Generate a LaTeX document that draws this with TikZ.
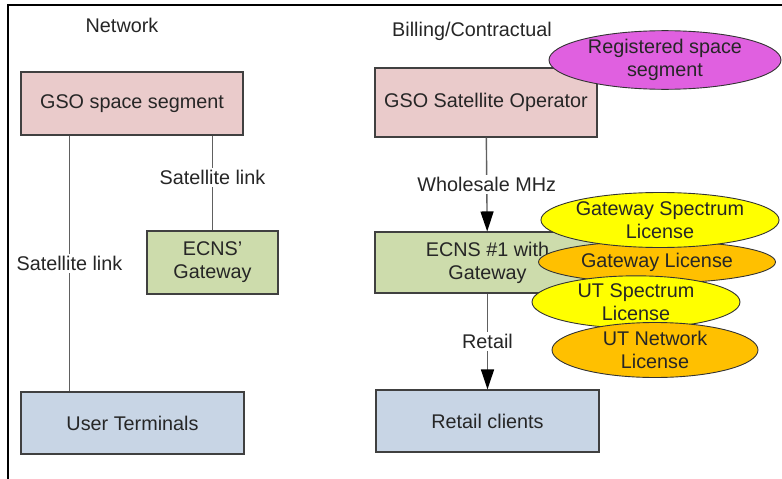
\documentclass[tikz,border=0pt]{standalone}
\usepackage{fontspec}
\setmainfont{Liberation Sans}
\usetikzlibrary{shapes.geometric,arrows.meta}
\definecolor{boxpink}{HTML}{EACBCB}
\definecolor{boxgreen}{HTML}{CDDCAC}
\definecolor{boxblue}{HTML}{C8D5E5}
\definecolor{lyellow}{HTML}{FFFF00}
\definecolor{lorange}{HTML}{FFC000}
\definecolor{lmagenta}{HTML}{E060E0}
\definecolor{edgegray}{HTML}{404040}
\definecolor{linkgray}{HTML}{606060}
\begin{document}
\begin{tikzpicture}[x=1pt,y=-1pt,
    every node/.style={font=\fontsize{19.8}{23}\selectfont, text=black!85},
    block/.style={draw=edgegray, line width=1.1pt, align=center, inner sep=0pt},
    lic/.style={ellipse, draw=black!80, line width=0.9pt, align=center, inner sep=0pt},
    link/.style={draw=linkgray, line width=1.4pt},
    linklabel/.style={fill=white, inner sep=2pt}]
    \useasboundingbox (0,0) rectangle (782,479);
    % frame
    \draw[line width=2pt] (8,479) -- (8,5) -- (782,5);

    % Network side
    \node (nettitle) at (122,25) {Network};
    \node[block, fill=boxpink, minimum width=222pt, minimum height=63pt] (gsoseg) at (132,103.5) {GSO space segment};
    \node[block, fill=boxgreen, minimum width=131pt, minimum height=63pt] (ecnsgw) at (212.5,262.5) {ECNS'\\Gateway};
    \node[block, fill=boxblue, minimum width=223pt, minimum height=62pt] (userterm) at (132.5,423) {User Terminals};
    \draw[link] ([xshift=49pt]gsoseg.south west) -- node[linklabel] {Satellite link} ([xshift=49pt]userterm.north west);
    \draw[link] (gsoseg.south -| ecnsgw.north) -- node[linklabel, pos=0.44] {Satellite link} (ecnsgw.north);

    % Billing side
    \node (billtitle) at (472,31) {Billing/Contractual};
    \node[block, fill=boxpink, minimum width=222pt, minimum height=69pt] (gsoop) at (486,102.5) {GSO Satellite Operator};
    \node[block, fill=boxgreen, minimum width=225pt, minimum height=61pt] (ecnsone) at (487.5,262.5) {ECNS \#1 with\\Gateway};
    \node[block, fill=boxblue, minimum width=223pt, minimum height=62pt] (retail) at (487.5,421) {Retail clients};
    \draw[link, -{Triangle[length=20pt,width=13pt]}, arrows={[black]}] (gsoop) -- node[linklabel] {Wholesale MHz} (ecnsone);
    \draw[link, -{Triangle[length=20pt,width=13pt]}, arrows={[black]}] (ecnsone) -- node[linklabel] {Retail} (retail);

    % licences
    \node[lic, fill=lmagenta, minimum width=232pt, minimum height=55pt] (regseg) at (665,60) {Registered space\\segment};
    \node[lic, fill=lorange, minimum width=237pt, minimum height=42pt] (gwlic) at (657,262) {Gateway License};
    \node[lic, fill=lyellow, minimum width=230pt, minimum height=55pt] (gwspec) at (660,220) {Gateway Spectrum\\License};
    \node[lic, fill=lyellow, minimum width=208pt, minimum height=50pt] (utspec) at (636,302) {UT Spectrum\\License};
    \node[lic, fill=lorange, minimum width=206pt, minimum height=55pt] (utnet) at (655,350) {UT Network\\License};
\end{tikzpicture}
\end{document}
